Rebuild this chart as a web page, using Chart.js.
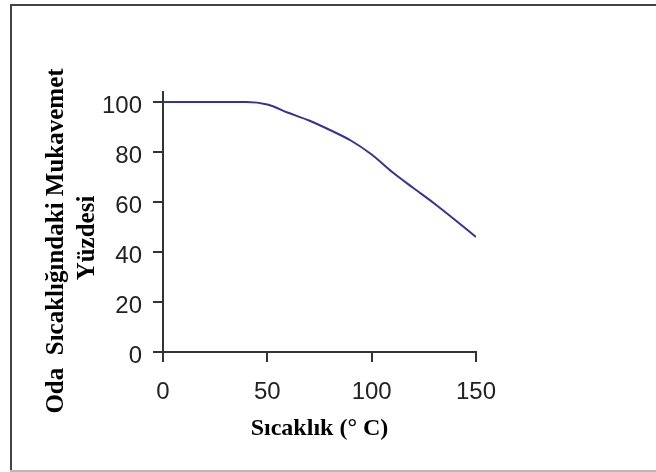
<!DOCTYPE html>
<html lang="tr">
<head>
    <meta charset="UTF-8">
    <title>Sıcaklık ve Mukavemet</title>
    <style>
        html, body {
            margin: 0;
            padding: 0;
            background: #ffffff;
        }
        .chart-box {
            position: relative;
            width: 656px;
            height: 472px;
        }
    </style>
</head>
<body>
    <div class="chart-box">
        <canvas id="strengthChart"></canvas>
    </div>
    <script src="https://cdn.jsdelivr.net/npm/chart.js"></script>
    <script>
        // Temperature (°C) and remaining strength (% of room-temperature value)
        const temperatures = [0, 10, 20, 30, 40, 50, 60, 70, 80, 90, 100, 110, 120, 130, 140, 150];
        const strengthPct = [100, 100, 100, 100, 100, 99, 95.7, 92.6, 88.8, 84.6, 79, 71.9, 65.6, 59.4, 52.8, 46];
        const xTicks = [0, 50, 100, 150];
        const yTicks = [0, 20, 40, 60, 80, 100];

        const yTitleLines = ['Oda  Sıcaklığındaki Mukavemet', 'Yüzdesi'];
        const xTitle = 'Sıcaklık (° C)';

        const points = temperatures.map((t, i) => ({ x: t, y: strengthPct[i] }));

        const axisColor = '#333333';
        const tickFont = { family: "'Liberation Sans', Arial, sans-serif", size: 24 };
        const serif = "'Liberation Serif', 'Times New Roman', serif";

        // outer frame plus the two axis titles
        const frameAndTitles = {
            id: 'frameAndTitles',
            beforeDraw(chart) {
                const c = chart.ctx;
                c.save();
                c.fillStyle = '#ffffff';
                c.fillRect(0, 0, chart.width, chart.height);
                c.strokeStyle = '#444444';
                c.lineWidth = 2;
                c.beginPath();
                c.moveTo(10, 5);
                c.lineTo(chart.width, 5);
                c.moveTo(11, 4);
                c.lineTo(11, chart.height);
                c.stroke();
                c.strokeStyle = '#b8b8b8';
                c.beginPath();
                c.moveTo(10, chart.height - 1);
                c.lineTo(chart.width, chart.height - 1);
                c.stroke();
                c.restore();
            },
            afterDraw(chart) {
                const c = chart.ctx;
                const area = chart.chartArea;
                c.save();
                c.fillStyle = '#000000';
                c.textAlign = 'center';
                c.textBaseline = 'alphabetic';
                c.font = 'bold 24px ' + serif;
                c.fillText(xTitle, (area.left + area.right) / 2, 435);

                // rotated title, baselines at x = 63 and x = 94
                c.font = 'bold 25px ' + serif;
                c.translate(63, 241);
                c.rotate(-Math.PI / 2);
                c.fillText(yTitleLines[0], 0, 0);
                c.fillText(yTitleLines[1], 3, 31);
                c.restore();
            }
        };

        new Chart(document.getElementById('strengthChart'), {
            type: 'line',
            data: {
                datasets: [{
                    label: 'Mukavemet (%)',
                    data: points,
                    borderColor: '#33339a',
                    borderWidth: 2,
                    pointRadius: 0,
                    cubicInterpolationMode: 'monotone',
                    fill: false
                }]
            },
            options: {
                responsive: true,
                maintainAspectRatio: false,
                animation: false,
                layout: {
                    padding: { left: 0, top: 92, right: 180, bottom: 0 }
                },
                plugins: {
                    legend: { display: false },
                    tooltip: { enabled: false }
                },
                scales: {
                    x: {
                        type: 'linear',
                        min: 0,
                        max: 150,
                        afterBuildTicks: (scale) => {
                            scale.ticks = xTicks.map(v => ({ value: v }));
                        },
                        afterFit: (scale) => {
                            scale.height = 120;
                        },
                        border: { display: true, color: axisColor, width: 2 },
                        grid: {
                            drawOnChartArea: false,
                            drawTicks: true,
                            tickLength: 10,
                            color: axisColor,
                            lineWidth: 2
                        },
                        ticks: {
                            color: '#222222',
                            font: tickFont,
                            padding: 16,
                            maxRotation: 0
                        }
                    },
                    y: {
                        type: 'linear',
                        min: 0,
                        max: 104,
                        afterBuildTicks: (scale) => {
                            scale.ticks = yTicks.map(v => ({ value: v }));
                        },
                        afterFit: (scale) => {
                            scale.width = 163;
                        },
                        border: { display: true, color: axisColor, width: 2 },
                        grid: {
                            drawOnChartArea: false,
                            drawTicks: true,
                            tickLength: 10,
                            color: axisColor,
                            lineWidth: 2
                        },
                        ticks: {
                            color: '#222222',
                            font: tickFont,
                            padding: 11,
                            labelOffset: 4
                        }
                    }
                }
            },
            plugins: [frameAndTitles]
        });
    </script>
</body>
</html>
